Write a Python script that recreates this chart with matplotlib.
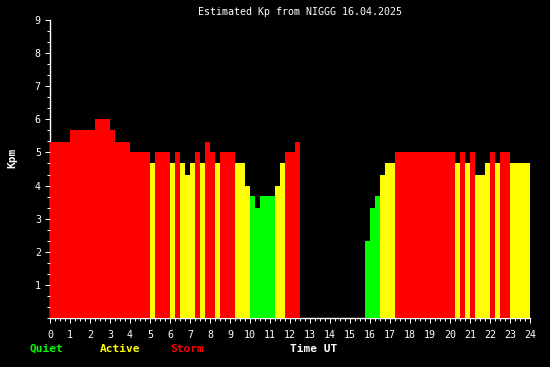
"""Estimated Kp from NIGGG, 15-minute values, drawn like the original web plot."""
import numpy as np
import matplotlib
matplotlib.use("Agg")
import matplotlib.pyplot as plt
from matplotlib.ticker import MultipleLocator

TITLE = "Estimated Kp from NIGGG 16.04.2025"

# Kp in thirds, one value per 15 min slot (96 slots), nan = no data
KP = [5.33] * 4 + [5.67] * 5 + [6.0] * 3 + [5.67] + [5.33] * 3 + [5.0] * 4 \
    + [4.67, 5.0, 5.0, 5.0, 4.67, 5.0, 4.67, 4.33, 4.67, 5.0, 4.67, 5.33, 5.0, 4.67] \
    + [5.0] * 3 + [4.67] * 2 + [4.0, 3.67, 3.33] + [3.67] * 3 \
    + [4.0, 4.67, 5.0, 5.0, 5.33] + [np.nan] * 13 \
    + [2.33, 3.33, 3.67, 4.33, 4.67, 4.67] + [5.0] * 12 \
    + [4.67, 5.0, 4.67, 5.0, 4.33, 4.33, 4.67, 5.0, 4.67, 5.0, 5.0] + [4.67] * 4
SLOT_H = 0.25

GREEN, YELLOW, RED = "#00ff00", "#ffff00", "#ff0000"


def kp_color(v):
    if v >= 4.99:
        return RED
    if v >= 3.99:
        return YELLOW
    return GREEN


W, H = 550, 367
fig = plt.figure(figsize=(W / 100, H / 100), dpi=100, facecolor="black")
ax = fig.add_axes([50 / W, 1 - 318 / H, 480 / W, 298 / H], facecolor="black")

kp = np.array(KP)
t = np.arange(len(kp)) * SLOT_H
ok = ~np.isnan(kp)
ax.bar(t[ok], kp[ok], width=SLOT_H, align="edge",
       color=[kp_color(v) for v in kp[ok]], linewidth=0)

ax.set_xlim(0, 24)
ax.set_ylim(0, 9)
for s in ("top", "right"):
    ax.spines[s].set_visible(False)
for s in ("left", "bottom"):
    ax.spines[s].set_color("white")
    ax.spines[s].set_linewidth(1)
    ax.spines[s].set_zorder(0.5)

mono = "DejaVu Sans Mono"
ax.xaxis.set_major_locator(MultipleLocator(1))
ax.xaxis.set_minor_locator(MultipleLocator(0.25))
ax.yaxis.set_major_locator(MultipleLocator(1))
ax.yaxis.set_minor_locator(MultipleLocator(1 / 3))
ax.set_yticks(range(1, 10))
ax.tick_params(which="major", length=3.6, width=0.72, color="white",
               labelcolor="white", labelsize=7.2, pad=3)
ax.tick_params(axis="x", which="major", pad=5)
ax.tick_params(which="minor", length=2.2, width=0.72, color="white")
for lab in ax.get_xticklabels() + ax.get_yticklabels():
    lab.set_family(mono)

fig.text(300 / W, 1 - 12 / H, TITLE, color="white", family=mono,
         fontsize=7.2, ha="center", va="center")
fig.text(12 / W, 1 - 158 / H, "Kpm", color="white", family=mono,
         fontsize=8, weight="bold", rotation=90, ha="center", va="center")
for x, txt, c in [(30, "Quiet", GREEN), (100, "Active", YELLOW),
                  (170, "Storm", RED), (290, "Time UT", "white")]:
    fig.text(x / W, 1 - 349 / H, txt, color=c, family=mono, fontsize=8,
             weight="bold", ha="left", va="center")

fig.savefig("out.png", dpi=100, facecolor="black")
